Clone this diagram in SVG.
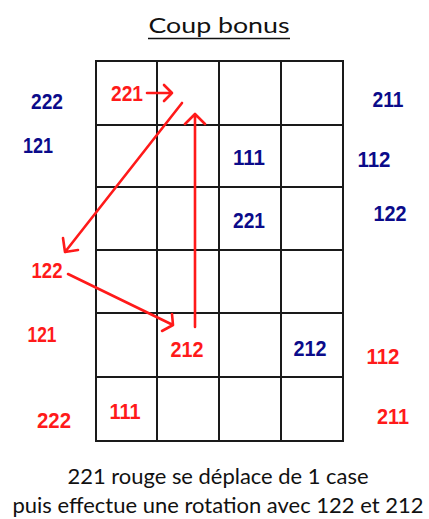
<svg xmlns="http://www.w3.org/2000/svg" width="429" height="519" viewBox="0 0 429 519">
<style>
.t{font-family:"Liberation Sans",Arial,sans-serif;font-weight:bold;font-size:22px;text-anchor:middle}
.b{fill:#0b0b8a}
.r{fill:#ff1a1a}
.cap{font-family:Lato,"Open Sans",sans-serif;font-size:22px;fill:#111;text-anchor:middle}
.g{stroke:#1a1a1a;stroke-width:2;fill:none}
.a{stroke:#ff1a1a;stroke-width:2.6;fill:none;stroke-linecap:round;stroke-linejoin:round}
</style>
<rect width="429" height="519" fill="#fff"/>
<g id="title">
<text class="cap" x="219" y="33" textLength="141" lengthAdjust="spacingAndGlyphs">Coup bonus</text>
<line x1="148" y1="38.5" x2="290" y2="38.5" stroke="#111" stroke-width="1.5"/>
</g>
<g id="grid" class="g">
<rect x="96" y="61" width="247" height="380"/>
<line x1="157" y1="61" x2="157" y2="441"/>
<line x1="219" y1="61" x2="219" y2="441"/>
<line x1="281" y1="61" x2="281" y2="441"/>
<line x1="96" y1="125" x2="343" y2="125"/>
<line x1="96" y1="187" x2="343" y2="187"/>
<line x1="96" y1="250" x2="343" y2="250"/>
<line x1="96" y1="313" x2="343" y2="313"/>
<line x1="96" y1="377" x2="343" y2="377"/>
</g>
<g id="connectors" class="a">
<path d="M147 93 H172 M164 85 L172 93 L164 101"/>
<path d="M182 103 L65 252 M63 238 L65 252 L78 250"/>
<path d="M195 327 V114 M185 124 L195 114 L205 124"/>
<path d="M68 274 L173 325 M172 314 L173 325 L162 331"/>
</g>
<g id="labels-blue" class="t b">
<text x="47" y="109" textLength="32" lengthAdjust="spacingAndGlyphs">222</text>
<text x="38" y="153" textLength="30" lengthAdjust="spacingAndGlyphs">121</text>
<text x="388" y="107" textLength="31" lengthAdjust="spacingAndGlyphs">211</text>
<text x="374" y="167" textLength="33" lengthAdjust="spacingAndGlyphs">112</text>
<text x="390" y="221" textLength="33" lengthAdjust="spacingAndGlyphs">122</text>
<text x="249" y="165" textLength="32" lengthAdjust="spacingAndGlyphs">111</text>
<text x="249" y="228" textLength="32" lengthAdjust="spacingAndGlyphs">221</text>
<text x="310" y="356" textLength="33" lengthAdjust="spacingAndGlyphs">212</text>
</g>
<g id="labels-red" class="t r">
<text x="127" y="101" textLength="32" lengthAdjust="spacingAndGlyphs">221</text>
<text x="47" y="278" textLength="31" lengthAdjust="spacingAndGlyphs">122</text>
<text x="42" y="342" textLength="29" lengthAdjust="spacingAndGlyphs">121</text>
<text x="187" y="357" textLength="33" lengthAdjust="spacingAndGlyphs">212</text>
<text x="383" y="364" textLength="33" lengthAdjust="spacingAndGlyphs">112</text>
<text x="125" y="419" textLength="31" lengthAdjust="spacingAndGlyphs">111</text>
<text x="54" y="428" textLength="34" lengthAdjust="spacingAndGlyphs">222</text>
<text x="393" y="424" textLength="32" lengthAdjust="spacingAndGlyphs">211</text>
</g>
<g id="caption">
<text class="cap" x="218" y="484" textLength="301" lengthAdjust="spacingAndGlyphs">221 rouge se déplace de 1 case</text>
<text class="cap" x="218" y="513" textLength="411" lengthAdjust="spacingAndGlyphs">puis effectue une rotation avec 122 et 212</text>
</g>
</svg>
